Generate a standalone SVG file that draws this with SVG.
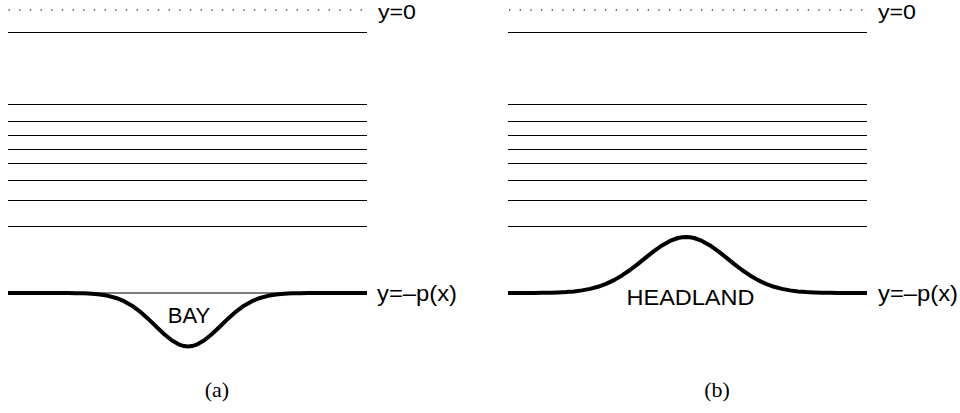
<svg xmlns="http://www.w3.org/2000/svg" width="960" height="413" viewBox="0 0 960 413">
<style>
.dot{stroke:#444;stroke-width:1.3;stroke-dasharray:1.3 9.37;fill:none}
.thin{stroke:#000;stroke-width:1;fill:none}
.coast{stroke:#000;stroke-width:4;fill:none;stroke-linejoin:round;stroke-linecap:butt}
.lbl{font-family:"Liberation Sans",Arial,sans-serif;font-size:22px;fill:#000}
.top{font-family:"Liberation Sans",Arial,sans-serif;font-size:20px;fill:#000}
.cap{font-family:"Liberation Serif","DejaVu Serif",serif;font-size:22px;fill:#000}
</style>
<rect width="960" height="413" fill="#fff"/>
<g id="panel-a">
  <line class="dot" x1="8.5" y1="10" x2="366" y2="10"/>
  <g id="streamlines-a">
    <line class="thin" x1="8" y1="32.5" x2="367" y2="32.5"/>
    <line class="thin" x1="8" y1="104.5" x2="367" y2="104.5"/>
    <line class="thin" x1="8" y1="121.5" x2="367" y2="121.5"/>
    <line class="thin" x1="8" y1="135.5" x2="367" y2="135.5"/>
    <line class="thin" x1="8" y1="149.5" x2="367" y2="149.5"/>
    <line class="thin" x1="8" y1="163.5" x2="367" y2="163.5"/>
    <line class="thin" x1="8" y1="180.5" x2="367" y2="180.5"/>
    <line class="thin" x1="8" y1="200.5" x2="367" y2="200.5"/>
    <line class="thin" x1="8" y1="226.5" x2="367" y2="226.5"/>
  </g>
  <line class="thin" x1="8" y1="293" x2="367" y2="293"/>
  <path id="bay" class="coast" d="M8,293 L68,293.07 L76,293.17 L84,293.37 L92,293.78 L100,294.53 L108,295.83 L116,297.95 L124,301.16 L132,305.68 L140,311.58 L148,318.66 L156,326.43 L164,334.07 L172,340.56 L180,344.95 L184,346.1 L188,346.5 L192,346.1 L196,344.95 L204,340.56 L212,334.07 L220,326.43 L228,318.66 L236,311.58 L244,305.68 L252,301.16 L260,297.95 L268,295.83 L276,294.53 L284,293.78 L292,293.37 L300,293.17 L308,293.07 L367,293"/>
  <text class="top" x="378" y="19" textLength="38" lengthAdjust="spacingAndGlyphs">y=0</text>
  <text class="lbl" x="377" y="301" textLength="80" lengthAdjust="spacingAndGlyphs">y=–p(x)</text>
  <text class="lbl" x="189" y="322.5" text-anchor="middle">BAY</text>
  <text class="cap" x="217" y="397" text-anchor="middle">(a)</text>
</g>
<g id="panel-b">
  <line class="dot" x1="509" y1="10" x2="866" y2="10"/>
  <g id="streamlines-b">
    <line class="thin" x1="508" y1="32.5" x2="867" y2="32.5"/>
    <line class="thin" x1="508" y1="104.5" x2="867" y2="104.5"/>
    <line class="thin" x1="508" y1="121.5" x2="867" y2="121.5"/>
    <line class="thin" x1="508" y1="135.5" x2="867" y2="135.5"/>
    <line class="thin" x1="508" y1="149.5" x2="867" y2="149.5"/>
    <line class="thin" x1="508" y1="163.5" x2="867" y2="163.5"/>
    <line class="thin" x1="508" y1="180.5" x2="867" y2="180.5"/>
    <line class="thin" x1="508" y1="200.5" x2="867" y2="200.5"/>
    <line class="thin" x1="508" y1="226.5" x2="867" y2="226.5"/>
  </g>
  <path id="headland" class="coast" d="M508,293 L534,292.93 L542,292.84 L550,292.7 L558,292.46 L566,292.05 L574,291.4 L582,290.39 L590,288.89 L598,286.76 L606,283.87 L614,280.11 L622,275.46 L630,269.98 L638,263.86 L646,257.42 L654,251.11 L662,245.44 L670,240.92 L678,238 L682,237.25 L686,237 L690,237.25 L694,238 L702,240.92 L710,245.44 L718,251.11 L726,257.42 L734,263.86 L742,269.98 L750,275.46 L758,280.11 L766,283.87 L774,286.76 L782,288.89 L790,290.39 L798,291.4 L806,292.05 L814,292.46 L822,292.7 L830,292.84 L838,292.93 L867,293"/>
  <text class="top" x="878" y="19" textLength="38" lengthAdjust="spacingAndGlyphs">y=0</text>
  <text class="lbl" x="878" y="301" textLength="80" lengthAdjust="spacingAndGlyphs">y=–p(x)</text>
  <text class="lbl" x="690.5" y="305" text-anchor="middle" textLength="128" lengthAdjust="spacingAndGlyphs">HEADLAND</text>
  <text class="cap" x="717" y="397" text-anchor="middle">(b)</text>
</g>
</svg>
